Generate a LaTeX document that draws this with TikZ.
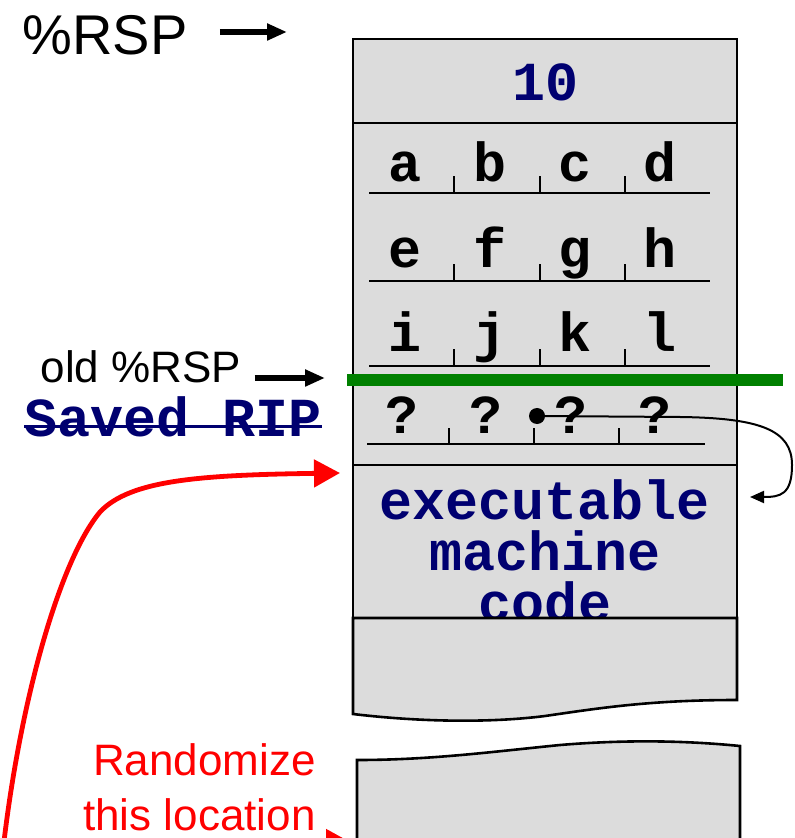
\documentclass[tikz,border=0pt]{standalone}
\usepackage{fontspec}
\setmainfont{Liberation Sans}
\setmonofont{Liberation Mono}
\usetikzlibrary{arrows.meta,calc}
\definecolor{stackgray}{RGB}{220,220,220}
\definecolor{codeblue}{RGB}{0,0,112}
\definecolor{bargreen}{RGB}{0,128,0}

\begin{document}
\begin{tikzpicture}[x=0.5pt,y=-0.5pt,
  sans/.style={inner sep=0pt, anchor=base, font=\fontsize{#1}{#1}\selectfont},
  mono/.style={inner sep=0pt, anchor=base, font=\fontsize{27.5}{25.5}\selectfont\ttfamily\bfseries},
  ptr/.style={-{Triangle[length=10pt,width=8pt]}, line width=3pt},
  redptr/.style={-{Triangle[length=13pt,width=13.5pt]}, line width=2.4pt, red},
  tick/.style={line width=1pt},
]
  \useasboundingbox (0,0) rectangle (794,838);

  % stack frame
  \fill[stackgray] (353,39) rectangle (737,618);
  \node[mono, text=codeblue] (ten) at (545,101) {10};
  \foreach \row/\base/\line [count=\r] in {{a,b,c,d}/182/193, {e,f,g,h}/268/281, {i,j,k,l}/352/366} {
    \foreach \ch [count=\c] in \row
      \node[mono] (cell\r\c) at (320+85*\c,\base) {\ch};
    \draw[tick] (369,\line) -- (710,\line);
    \foreach \t in {454,540,625}
      \draw[tick] (\t,\line) -- (\t,\line-17);
  }
  \foreach \c in {1,...,4}
    \node[mono] (ret\c) at (317+84.5*\c,433) {?};
  \draw[tick] (367,444) -- (705,444);
  \foreach \t in {449,534,619}
    \draw[tick] (\t,444) -- (\t,428);
  \node[mono, text=codeblue, align=center] (code) at (545,621) {executable\\machine\\code};

  \filldraw[fill=stackgray, line width=1.3pt] (353,618) -- (737,618) -- (737,700)
    .. controls (650,700) and (600,708) .. (545,716)
    .. controls (490,723) and (420,722) .. (353,714) -- cycle;
  \draw[line width=1.3pt] (353,618) -- (353,39) -- (737,39) -- (737,618);
  \draw[line width=1.3pt] (353,123) -- (737,123);
  \draw[line width=1.3pt] (353,465) -- (737,465);

  \filldraw[fill=stackgray, line width=1.3pt] (357,860) -- (357,760)
    .. controls (430,760) and (490,752) .. (560,745)
    .. controls (620,740) and (680,740) .. (740,746) -- (740,860);

  % old stack pointer
  \draw[bargreen, line width=6pt] (347,380) -- (783,380);

  % pointer into the code
  \coordinate (hop) at (680,417);
  \coordinate (hoptip) at (750,497);
  \fill (537,416) circle (4pt) coordinate (dot);
  \draw[line width=1pt, -{Triangle[length=7pt,width=6pt]}] (dot) -- (hop)
    .. controls (760,418) and (792,430) .. (792,465)
    .. controls (792,495) and (780,497) .. (hoptip);

  % labels on the left
  \node[sans=28] (rsp) at (105,55) {\%RSP};
  \coordinate (rsptip) at (287,32);
  \draw[ptr, shorten <=16pt] (rsp.east |- rsptip) -- (rsptip);

  \node[sans=22] (oldrsp) at (141,383) {old \%RSP};
  \coordinate (oldtip) at (325,378);
  \draw[ptr, shorten <=6.5pt] (oldrsp.east |- oldtip) -- (oldtip);

  \node[mono, text=codeblue] (rip) at (173,437) {Saved RIP};
  \draw[codeblue, line width=1.5pt] ([yshift=5.5pt]rip.base west) -- ([yshift=5.5pt]rip.base east);

  \node[sans=22, text=red, align=right, anchor=base east, font=\fontsize{22}{27.5}\selectfont] (loc) at (316,830) {Randomize\\this location};

  % randomized return target
  \coordinate (jumptip) at (340,473);
  \coordinate (jumpfrom) at (3,850);
  \draw[redptr] (jumpfrom) .. controls (20,700) and (60,560) .. (100,512)
    .. controls (130,480) and (200,475) .. (jumptip);
  \coordinate (locfrom) at (255,843);
  \coordinate (locto) at (352,843);
  \draw[redptr] (locfrom) -- (locto);
\end{tikzpicture}
\end{document}
